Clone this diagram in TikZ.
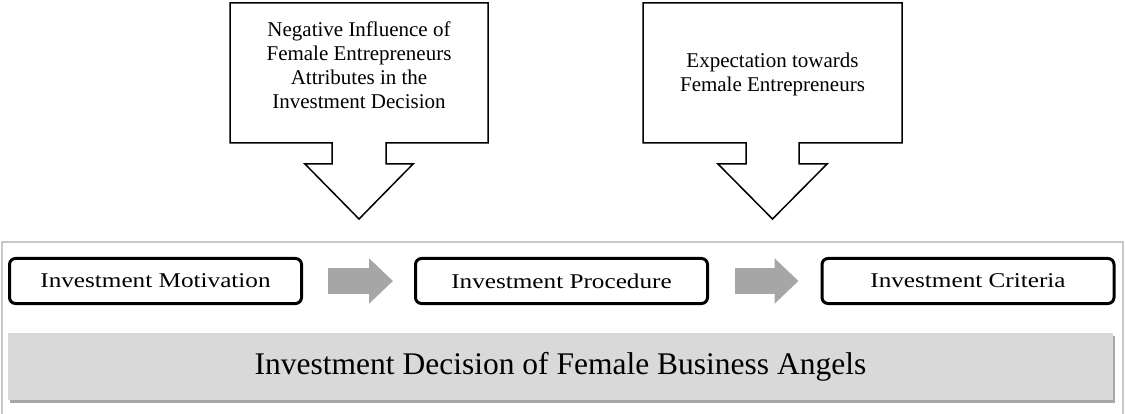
\documentclass[tikz,border=0pt]{standalone}
\usepackage{fontspec}
\setmainfont{Liberation Serif}
\newfontfamily\stagefont[FakeStretch=1.2]{Liberation Serif}
\usetikzlibrary{arrows.meta,shadows}
\definecolor{arrowgray}{HTML}{A6A6A6}
\definecolor{bargray}{HTML}{D9D9D9}
\definecolor{framegray}{HTML}{C8C8C8}
\tikzset{
  stagebox/.style={draw, line width=3pt, rounded corners=6pt, minimum width=292pt,
    minimum height=45pt, inner sep=0pt, font=\stagefont\fontsize{21}{24}\selectfont},
  callout/.style={draw, line width=1.5pt, fill=white, line join=miter},
  callouttext/.style={align=center, inner sep=0pt, font=\fontsize{21}{24}\selectfont},
  flowarrow/.style={draw=arrowgray, line width=26pt,
    -{Triangle[length=24pt,width=44pt,color=arrowgray]}},
}
\begin{document}
\begin{tikzpicture}[x=1pt,y=-1pt]
\useasboundingbox (0,0) rectangle (1125,414);
% frame round the lower part
\draw[framegray, line width=1.5pt] (2,430) -- (2,242) -- (1123,242) -- (1123,430);
% callouts
\draw[callout] (230,3) -- (488,3) -- (488,143) -- (386,143) -- (386,164) -- (413,164)
  -- (359,219) -- (305,164) -- (332,164) -- (332,143) -- (230,143) -- cycle;
\node[callouttext] (influence) at (359,65) {Negative Influence of\\Female Entrepreneurs\\Attributes in the\\Investment Decision};
\draw[callout] (643,3) -- (902,3) -- (902,143) -- (799,143) -- (799,164) -- (827,164)
  -- (772.5,219) -- (718,164) -- (746,164) -- (746,143) -- (643,143) -- cycle;
\node[callouttext] (expectation) at (772.5,74) {Expectation towards\\Female Entrepreneurs};
% stages
\node[stagebox] (motivation) at (155.5,281) {Investment Motivation};
\node[stagebox] (procedure) at (561.5,281) {Investment Procedure};
\node[stagebox] (criteria) at (968,281) {Investment Criteria};
\draw[flowarrow] ([xshift=25pt]motivation.east) -- ([xshift=-21pt]procedure.west);
\draw[flowarrow] ([xshift=26pt]procedure.east) -- ([xshift=-22pt]criteria.west);
% bar
\node[fill=bargray, minimum width=1105pt, minimum height=67pt, inner sep=0pt,
  drop shadow={shadow xshift=2pt, shadow yshift=-3pt, fill=black, opacity=0.35},
  font=\fontsize{31.5}{36}\selectfont] (decision) at (560.5,366.5)
  {Investment Decision of Female Business Angels};
\end{tikzpicture}
\end{document}
